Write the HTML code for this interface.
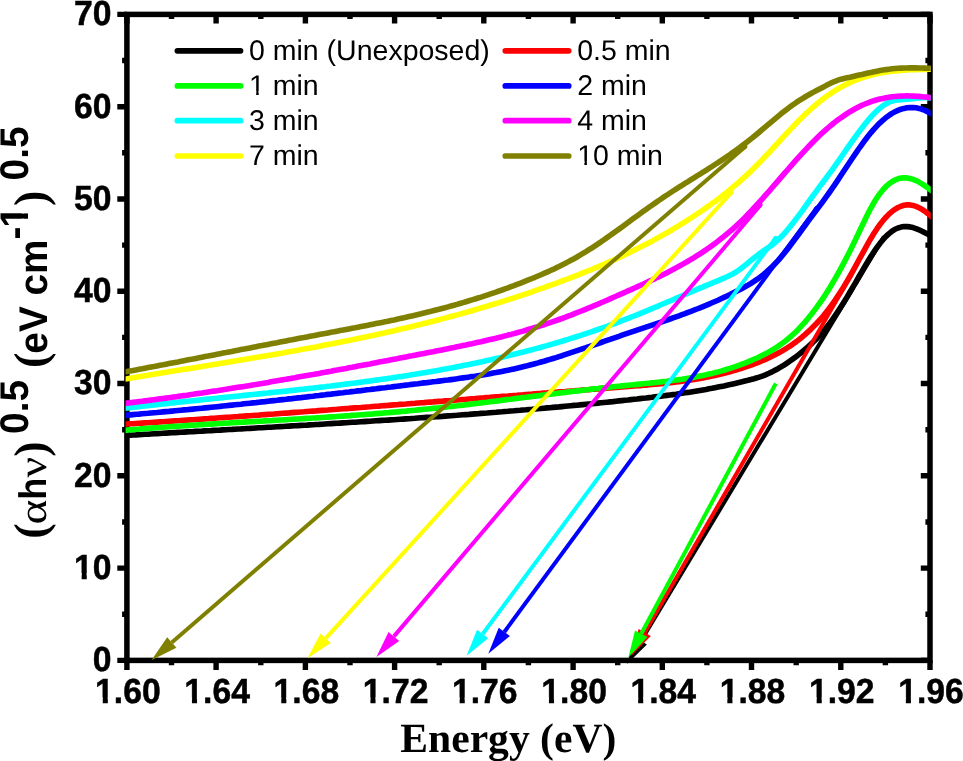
<!DOCTYPE html>
<html lang="en"><head><meta charset="utf-8"><title>Tauc plot</title>
<style>
html,body{margin:0;padding:0;background:#fff;}
svg{display:block;will-change:transform;}
text{font-family:"Liberation Sans",sans-serif;fill:#000;text-rendering:geometricPrecision;}
.b{font-weight:bold;}
.tick{font-weight:bold;font-size:34.8px;stroke:#000;stroke-width:0.5px;}
.leg{font-size:28.5px;}
.ser{font-family:"Liberation Serif",serif;}
</style></head><body>
<svg width="963" height="761" viewBox="0 0 963 761">
<rect x="0" y="0" width="963" height="761" fill="#fff"/>
<rect x="126.9" y="14.4" width="803.1" height="646.0" fill="none" stroke="#000" stroke-width="5.5"/>
<path d="M126.9,660.4 v9.6 M126.9,14.4 v9.2 M171.5,660.4 v4.8 M171.5,14.4 v4.6 M216.1,660.4 v9.6 M216.1,14.4 v9.2 M260.8,660.4 v4.8 M260.8,14.4 v4.6 M305.4,660.4 v9.6 M305.4,14.4 v9.2 M350.0,660.4 v4.8 M350.0,14.4 v4.6 M394.6,660.4 v9.6 M394.6,14.4 v9.2 M439.2,660.4 v4.8 M439.2,14.4 v4.6 M483.8,660.4 v9.6 M483.8,14.4 v9.2 M528.4,660.4 v4.8 M528.4,14.4 v4.6 M573.1,660.4 v9.6 M573.1,14.4 v9.2 M617.7,660.4 v4.8 M617.7,14.4 v4.6 M662.3,660.4 v9.6 M662.3,14.4 v9.2 M706.9,660.4 v4.8 M706.9,14.4 v4.6 M751.5,660.4 v9.6 M751.5,14.4 v9.2 M796.2,660.4 v4.8 M796.2,14.4 v4.6 M840.8,660.4 v9.6 M840.8,14.4 v9.2 M885.4,660.4 v4.8 M885.4,14.4 v4.6 M930.0,660.4 v9.6 M930.0,14.4 v9.2 M126.9,660.4 h-9.6 M930.0,660.4 h-9.2 M126.9,614.3 h-4.8 M930.0,614.3 h-4.6 M126.9,568.1 h-9.6 M930.0,568.1 h-9.2 M126.9,522.0 h-4.8 M930.0,522.0 h-4.6 M126.9,475.8 h-9.6 M930.0,475.8 h-9.2 M126.9,429.7 h-4.8 M930.0,429.7 h-4.6 M126.9,383.5 h-9.6 M930.0,383.5 h-9.2 M126.9,337.4 h-4.8 M930.0,337.4 h-4.6 M126.9,291.3 h-9.6 M930.0,291.3 h-9.2 M126.9,245.1 h-4.8 M930.0,245.1 h-4.6 M126.9,199.0 h-9.6 M930.0,199.0 h-9.2 M126.9,152.8 h-4.8 M930.0,152.8 h-4.6 M126.9,106.7 h-9.6 M930.0,106.7 h-9.2 M126.9,60.5 h-4.8 M930.0,60.5 h-4.6 M126.9,14.4 h-9.6 M930.0,14.4 h-9.2" stroke="#000" stroke-width="5.4" fill="none"/>
<g transform="translate(127.9,703.2) scale(0.968,1)"><text class="tick" text-anchor="middle">1.60</text><rect x="-33.72" y="-5.80" width="7.73" height="8.55" fill="#fff"/><rect x="-20.72" y="-5.80" width="7.29" height="8.55" fill="#fff"/></g>
<g transform="translate(217.1,703.2) scale(0.968,1)"><text class="tick" text-anchor="middle">1.64</text><rect x="-33.72" y="-5.80" width="7.73" height="8.55" fill="#fff"/><rect x="-20.72" y="-5.80" width="7.29" height="8.55" fill="#fff"/></g>
<g transform="translate(306.4,703.2) scale(0.968,1)"><text class="tick" text-anchor="middle">1.68</text><rect x="-33.72" y="-5.80" width="7.73" height="8.55" fill="#fff"/><rect x="-20.72" y="-5.80" width="7.29" height="8.55" fill="#fff"/></g>
<g transform="translate(395.6,703.2) scale(0.968,1)"><text class="tick" text-anchor="middle">1.72</text><rect x="-33.72" y="-5.80" width="7.73" height="8.55" fill="#fff"/><rect x="-20.72" y="-5.80" width="7.29" height="8.55" fill="#fff"/></g>
<g transform="translate(484.8,703.2) scale(0.968,1)"><text class="tick" text-anchor="middle">1.76</text><rect x="-33.72" y="-5.80" width="7.73" height="8.55" fill="#fff"/><rect x="-20.72" y="-5.80" width="7.29" height="8.55" fill="#fff"/></g>
<g transform="translate(574.1,703.2) scale(0.968,1)"><text class="tick" text-anchor="middle">1.80</text><rect x="-33.72" y="-5.80" width="7.73" height="8.55" fill="#fff"/><rect x="-20.72" y="-5.80" width="7.29" height="8.55" fill="#fff"/></g>
<g transform="translate(663.3,703.2) scale(0.968,1)"><text class="tick" text-anchor="middle">1.84</text><rect x="-33.72" y="-5.80" width="7.73" height="8.55" fill="#fff"/><rect x="-20.72" y="-5.80" width="7.29" height="8.55" fill="#fff"/></g>
<g transform="translate(752.5,703.2) scale(0.968,1)"><text class="tick" text-anchor="middle">1.88</text><rect x="-33.72" y="-5.80" width="7.73" height="8.55" fill="#fff"/><rect x="-20.72" y="-5.80" width="7.29" height="8.55" fill="#fff"/></g>
<g transform="translate(841.8,703.2) scale(0.968,1)"><text class="tick" text-anchor="middle">1.92</text><rect x="-33.72" y="-5.80" width="7.73" height="8.55" fill="#fff"/><rect x="-20.72" y="-5.80" width="7.29" height="8.55" fill="#fff"/></g>
<g transform="translate(931.0,703.2) scale(0.968,1)"><text class="tick" text-anchor="middle">1.96</text><rect x="-33.72" y="-5.80" width="7.73" height="8.55" fill="#fff"/><rect x="-20.72" y="-5.80" width="7.29" height="8.55" fill="#fff"/></g>
<g transform="translate(111.5,671.2) scale(0.968,1)"><text class="tick" text-anchor="end">0</text></g>
<g transform="translate(111.5,578.9) scale(0.968,1)"><text class="tick" text-anchor="end">10</text><rect x="-38.57" y="-5.80" width="7.73" height="8.55" fill="#fff"/><rect x="-25.56" y="-5.80" width="7.29" height="8.55" fill="#fff"/></g>
<g transform="translate(111.5,486.6) scale(0.968,1)"><text class="tick" text-anchor="end">20</text></g>
<g transform="translate(111.5,394.3) scale(0.968,1)"><text class="tick" text-anchor="end">30</text></g>
<g transform="translate(111.5,302.1) scale(0.968,1)"><text class="tick" text-anchor="end">40</text></g>
<g transform="translate(111.5,209.8) scale(0.968,1)"><text class="tick" text-anchor="end">50</text></g>
<g transform="translate(111.5,117.5) scale(0.968,1)"><text class="tick" text-anchor="end">60</text></g>
<g transform="translate(111.5,25.2) scale(0.968,1)"><text class="tick" text-anchor="end">70</text></g>
<clipPath id="cp"><rect x="125.6" y="0" width="805.2" height="761"/></clipPath>
<g clip-path="url(#cp)">
<path d="M123.5,435.6 L127.0,435.4 L130.0,435.2 L133.0,435.0 L136.0,434.9 L139.0,434.7 L142.0,434.5 L145.0,434.3 L148.0,434.2 L151.0,434.0 L154.0,433.8 L157.0,433.6 L160.0,433.5 L163.0,433.3 L166.0,433.1 L169.0,432.9 L172.0,432.8 L175.0,432.6 L178.0,432.4 L181.0,432.3 L184.0,432.1 L187.0,431.9 L190.0,431.7 L193.0,431.6 L196.0,431.4 L199.0,431.2 L202.0,431.1 L205.0,430.9 L208.0,430.7 L211.0,430.6 L214.0,430.4 L217.0,430.2 L220.0,430.1 L223.0,429.9 L226.0,429.7 L229.0,429.5 L232.0,429.4 L235.0,429.2 L238.0,429.0 L241.0,428.9 L244.0,428.7 L247.0,428.5 L250.0,428.4 L253.0,428.2 L256.0,428.0 L259.0,427.8 L262.0,427.7 L265.0,427.5 L268.0,427.3 L271.0,427.2 L274.0,427.0 L277.0,426.8 L280.0,426.6 L283.0,426.5 L286.0,426.3 L289.0,426.1 L292.0,425.9 L295.0,425.8 L298.0,425.6 L301.0,425.4 L304.0,425.2 L307.0,425.1 L310.0,424.9 L313.0,424.7 L316.0,424.5 L319.0,424.4 L322.0,424.2 L325.0,424.0 L328.0,423.8 L331.0,423.6 L334.0,423.4 L337.0,423.3 L340.0,423.1 L343.0,422.9 L346.0,422.7 L349.0,422.5 L352.0,422.3 L355.0,422.2 L358.0,422.0 L361.0,421.8 L364.0,421.6 L367.0,421.4 L370.0,421.2 L373.0,421.0 L376.0,420.8 L379.0,420.6 L382.0,420.4 L385.0,420.3 L388.0,420.1 L391.0,419.9 L394.0,419.7 L397.0,419.5 L400.0,419.3 L403.0,419.1 L406.0,418.9 L409.0,418.7 L412.0,418.5 L415.0,418.3 L418.0,418.0 L421.0,417.8 L424.0,417.6 L427.0,417.4 L430.0,417.2 L433.0,417.0 L436.0,416.8 L439.0,416.6 L442.0,416.4 L445.0,416.1 L448.0,415.9 L451.0,415.7 L454.0,415.5 L457.0,415.3 L460.0,415.0 L463.0,414.8 L466.0,414.6 L469.0,414.4 L472.0,414.1 L475.0,413.9 L478.0,413.7 L481.0,413.4 L484.0,413.2 L487.0,413.0 L490.0,412.7 L493.0,412.5 L496.0,412.3 L499.0,412.0 L502.0,411.8 L505.0,411.5 L508.0,411.3 L511.0,411.0 L514.0,410.8 L517.0,410.5 L520.0,410.3 L523.0,410.0 L526.0,409.8 L529.0,409.5 L532.0,409.3 L535.0,409.0 L538.0,408.7 L541.0,408.5 L544.0,408.2 L547.0,407.9 L550.0,407.7 L553.0,407.4 L556.0,407.1 L559.0,406.9 L562.0,406.6 L565.0,406.3 L568.0,406.0 L571.0,405.7 L574.0,405.4 L577.0,405.2 L580.0,404.9 L583.0,404.6 L586.0,404.3 L589.0,404.0 L592.0,403.7 L595.0,403.4 L598.0,403.1 L601.0,402.8 L604.0,402.5 L607.0,402.2 L610.0,401.9 L613.0,401.6 L616.0,401.2 L619.0,400.9 L622.0,400.6 L625.0,400.3 L628.0,400.0 L631.0,399.6 L634.0,399.3 L637.0,399.0 L640.0,398.6 L643.0,398.3 L646.0,398.0 L649.0,397.6 L652.0,397.3 L655.0,396.9 L658.0,396.5 L661.0,396.2 L664.0,395.8 L667.0,395.4 L670.0,395.0 L673.0,394.6 L676.0,394.2 L679.0,393.7 L682.0,393.3 L685.0,392.8 L688.0,392.4 L691.0,391.9 L694.0,391.4 L697.0,390.9 L700.0,390.4 L703.0,389.9 L706.0,389.4 L709.0,388.8 L712.0,388.3 L715.0,387.7 L718.0,387.1 L721.0,386.5 L724.0,385.9 L727.0,385.2 L730.0,384.6 L733.0,383.9 L736.0,383.2 L739.0,382.5 L742.0,381.8 L745.0,381.0 L748.0,380.3 L751.0,379.5 L754.0,378.7 L757.0,377.8 L760.0,376.8 L763.0,375.8 L766.0,374.6 L769.0,373.3 L772.0,371.9 L775.0,370.3 L778.0,368.7 L781.0,366.9 L784.0,365.1 L787.0,363.1 L790.0,361.0 L793.0,358.9 L796.0,356.7 L799.0,354.4 L802.0,352.0 L805.0,349.5 L808.0,346.9 L811.0,344.1 L814.0,341.3 L817.0,338.2 L820.0,335.0 L823.0,331.6 L826.0,328.0 L829.0,324.1 L832.0,320.1 L835.0,315.8 L838.0,311.4 L841.0,306.8 L844.0,302.0 L847.0,297.1 L850.0,292.0 L853.0,286.9 L856.0,281.8 L859.0,276.5 L862.0,271.3 L865.0,266.2 L868.0,261.2 L871.0,256.3 L874.0,251.7 L877.0,247.4 L880.0,243.3 L883.0,239.7 L886.0,236.4 L889.0,233.6 L892.0,231.2 L895.0,229.3 L898.0,228.0 L901.0,227.1 L904.0,226.6 L907.0,226.6 L910.0,226.9 L913.0,227.6 L916.0,228.6 L919.0,229.8 L922.0,231.2 L925.0,232.8 L928.0,234.4 L931.0,236.1 L934.0,237.7" fill="none" stroke="#000000" stroke-width="5.6" stroke-linejoin="round"/>
<path d="M123.5,424.3 L127.0,424.0 L130.0,423.8 L133.0,423.7 L136.0,423.5 L139.0,423.3 L142.0,423.1 L145.0,422.9 L148.0,422.7 L151.0,422.5 L154.0,422.3 L157.0,422.1 L160.0,421.9 L163.0,421.7 L166.0,421.5 L169.0,421.3 L172.0,421.1 L175.0,420.9 L178.0,420.7 L181.0,420.5 L184.0,420.3 L187.0,420.1 L190.0,419.9 L193.0,419.7 L196.0,419.5 L199.0,419.3 L202.0,419.1 L205.0,418.9 L208.0,418.7 L211.0,418.4 L214.0,418.2 L217.0,418.0 L220.0,417.8 L223.0,417.6 L226.0,417.4 L229.0,417.2 L232.0,417.0 L235.0,416.8 L238.0,416.6 L241.0,416.3 L244.0,416.1 L247.0,415.9 L250.0,415.7 L253.0,415.5 L256.0,415.3 L259.0,415.1 L262.0,414.8 L265.0,414.6 L268.0,414.4 L271.0,414.2 L274.0,414.0 L277.0,413.7 L280.0,413.5 L283.0,413.3 L286.0,413.1 L289.0,412.9 L292.0,412.6 L295.0,412.4 L298.0,412.2 L301.0,412.0 L304.0,411.8 L307.0,411.5 L310.0,411.3 L313.0,411.1 L316.0,410.9 L319.0,410.6 L322.0,410.4 L325.0,410.2 L328.0,410.0 L331.0,409.7 L334.0,409.5 L337.0,409.3 L340.0,409.0 L343.0,408.8 L346.0,408.6 L349.0,408.4 L352.0,408.1 L355.0,407.9 L358.0,407.7 L361.0,407.5 L364.0,407.2 L367.0,407.0 L370.0,406.8 L373.0,406.5 L376.0,406.3 L379.0,406.1 L382.0,405.8 L385.0,405.6 L388.0,405.4 L391.0,405.1 L394.0,404.9 L397.0,404.7 L400.0,404.4 L403.0,404.2 L406.0,404.0 L409.0,403.7 L412.0,403.5 L415.0,403.3 L418.0,403.0 L421.0,402.8 L424.0,402.6 L427.0,402.3 L430.0,402.1 L433.0,401.9 L436.0,401.6 L439.0,401.4 L442.0,401.2 L445.0,400.9 L448.0,400.7 L451.0,400.5 L454.0,400.2 L457.0,400.0 L460.0,399.8 L463.0,399.5 L466.0,399.3 L469.0,399.0 L472.0,398.8 L475.0,398.6 L478.0,398.3 L481.0,398.1 L484.0,397.9 L487.0,397.6 L490.0,397.4 L493.0,397.1 L496.0,396.9 L499.0,396.7 L502.0,396.4 L505.0,396.2 L508.0,396.0 L511.0,395.7 L514.0,395.5 L517.0,395.3 L520.0,395.0 L523.0,394.8 L526.0,394.5 L529.0,394.3 L532.0,394.1 L535.0,393.8 L538.0,393.6 L541.0,393.4 L544.0,393.1 L547.0,392.9 L550.0,392.6 L553.0,392.4 L556.0,392.2 L559.0,391.9 L562.0,391.7 L565.0,391.5 L568.0,391.2 L571.0,391.0 L574.0,390.8 L577.0,390.5 L580.0,390.3 L583.0,390.0 L586.0,389.8 L589.0,389.6 L592.0,389.3 L595.0,389.1 L598.0,388.9 L601.0,388.6 L604.0,388.4 L607.0,388.2 L610.0,387.9 L613.0,387.7 L616.0,387.5 L619.0,387.2 L622.0,387.0 L625.0,386.8 L628.0,386.5 L631.0,386.3 L634.0,386.0 L637.0,385.8 L640.0,385.6 L643.0,385.3 L646.0,385.1 L649.0,384.8 L652.0,384.5 L655.0,384.3 L658.0,384.0 L661.0,383.7 L664.0,383.4 L667.0,383.1 L670.0,382.7 L673.0,382.4 L676.0,382.0 L679.0,381.6 L682.0,381.2 L685.0,380.8 L688.0,380.4 L691.0,379.9 L694.0,379.5 L697.0,379.0 L700.0,378.4 L703.0,377.9 L706.0,377.3 L709.0,376.7 L712.0,376.1 L715.0,375.4 L718.0,374.8 L721.0,374.1 L724.0,373.3 L727.0,372.5 L730.0,371.7 L733.0,370.9 L736.0,370.0 L739.0,369.1 L742.0,368.2 L745.0,367.2 L748.0,366.1 L751.0,365.1 L754.0,364.0 L757.0,362.8 L760.0,361.6 L763.0,360.4 L766.0,359.1 L769.0,357.8 L772.0,356.3 L775.0,354.8 L778.0,353.3 L781.0,351.6 L784.0,349.9 L787.0,348.0 L790.0,346.1 L793.0,344.0 L796.0,341.9 L799.0,339.6 L802.0,337.2 L805.0,334.6 L808.0,331.9 L811.0,329.1 L814.0,326.1 L817.0,323.0 L820.0,319.7 L823.0,316.2 L826.0,312.5 L829.0,308.7 L832.0,304.6 L835.0,300.4 L838.0,295.9 L841.0,291.2 L844.0,286.4 L847.0,281.3 L850.0,276.1 L853.0,270.8 L856.0,265.4 L859.0,259.8 L862.0,254.3 L865.0,248.8 L868.0,243.4 L871.0,238.2 L874.0,233.3 L877.0,228.7 L880.0,224.5 L883.0,220.6 L886.0,217.2 L889.0,214.1 L892.0,211.5 L895.0,209.3 L898.0,207.5 L901.0,206.2 L904.0,205.3 L907.0,204.9 L910.0,204.9 L913.0,205.4 L916.0,206.4 L919.0,207.7 L922.0,209.4 L925.0,211.4 L928.0,213.7 L931.0,216.2 L934.0,218.8" fill="none" stroke="#ff0000" stroke-width="5.6" stroke-linejoin="round"/>
<path d="M123.5,430.4 L127.0,430.1 L130.0,429.8 L133.0,429.6 L136.0,429.3 L139.0,429.1 L142.0,428.8 L145.0,428.6 L148.0,428.4 L151.0,428.1 L154.0,427.9 L157.0,427.7 L160.0,427.5 L163.0,427.3 L166.0,427.0 L169.0,426.8 L172.0,426.6 L175.0,426.4 L178.0,426.2 L181.0,426.0 L184.0,425.8 L187.0,425.6 L190.0,425.4 L193.0,425.2 L196.0,425.0 L199.0,424.8 L202.0,424.6 L205.0,424.5 L208.0,424.3 L211.0,424.1 L214.0,423.9 L217.0,423.7 L220.0,423.5 L223.0,423.4 L226.0,423.2 L229.0,423.0 L232.0,422.8 L235.0,422.6 L238.0,422.5 L241.0,422.3 L244.0,422.1 L247.0,421.9 L250.0,421.8 L253.0,421.6 L256.0,421.4 L259.0,421.2 L262.0,421.1 L265.0,420.9 L268.0,420.7 L271.0,420.6 L274.0,420.4 L277.0,420.2 L280.0,420.0 L283.0,419.9 L286.0,419.7 L289.0,419.5 L292.0,419.3 L295.0,419.1 L298.0,419.0 L301.0,418.8 L304.0,418.6 L307.0,418.4 L310.0,418.2 L313.0,418.0 L316.0,417.9 L319.0,417.7 L322.0,417.5 L325.0,417.3 L328.0,417.1 L331.0,416.9 L334.0,416.7 L337.0,416.5 L340.0,416.3 L343.0,416.1 L346.0,415.9 L349.0,415.7 L352.0,415.4 L355.0,415.2 L358.0,415.0 L361.0,414.8 L364.0,414.6 L367.0,414.3 L370.0,414.1 L373.0,413.9 L376.0,413.6 L379.0,413.4 L382.0,413.2 L385.0,412.9 L388.0,412.7 L391.0,412.4 L394.0,412.1 L397.0,411.9 L400.0,411.6 L403.0,411.3 L406.0,411.1 L409.0,410.8 L412.0,410.5 L415.0,410.2 L418.0,409.9 L421.0,409.6 L424.0,409.3 L427.0,409.0 L430.0,408.7 L433.0,408.4 L436.0,408.1 L439.0,407.8 L442.0,407.4 L445.0,407.1 L448.0,406.8 L451.0,406.4 L454.0,406.1 L457.0,405.8 L460.0,405.4 L463.0,405.1 L466.0,404.7 L469.0,404.4 L472.0,404.0 L475.0,403.6 L478.0,403.3 L481.0,402.9 L484.0,402.5 L487.0,402.2 L490.0,401.8 L493.0,401.4 L496.0,401.1 L499.0,400.7 L502.0,400.3 L505.0,399.9 L508.0,399.5 L511.0,399.2 L514.0,398.8 L517.0,398.4 L520.0,398.0 L523.0,397.6 L526.0,397.3 L529.0,396.9 L532.0,396.5 L535.0,396.1 L538.0,395.7 L541.0,395.4 L544.0,395.0 L547.0,394.6 L550.0,394.2 L553.0,393.9 L556.0,393.5 L559.0,393.1 L562.0,392.7 L565.0,392.4 L568.0,392.0 L571.0,391.6 L574.0,391.3 L577.0,390.9 L580.0,390.6 L583.0,390.2 L586.0,389.8 L589.0,389.5 L592.0,389.1 L595.0,388.8 L598.0,388.5 L601.0,388.1 L604.0,387.8 L607.0,387.5 L610.0,387.1 L613.0,386.8 L616.0,386.5 L619.0,386.2 L622.0,385.9 L625.0,385.6 L628.0,385.3 L631.0,385.0 L634.0,384.7 L637.0,384.4 L640.0,384.1 L643.0,383.8 L646.0,383.5 L649.0,383.2 L652.0,382.9 L655.0,382.6 L658.0,382.2 L661.0,381.9 L664.0,381.5 L667.0,381.2 L670.0,380.8 L673.0,380.4 L676.0,380.0 L679.0,379.6 L682.0,379.2 L685.0,378.7 L688.0,378.2 L691.0,377.7 L694.0,377.2 L697.0,376.6 L700.0,376.0 L703.0,375.4 L706.0,374.8 L709.0,374.1 L712.0,373.4 L715.0,372.6 L718.0,371.9 L721.0,371.1 L724.0,370.2 L727.0,369.3 L730.0,368.4 L733.0,367.4 L736.0,366.4 L739.0,365.3 L742.0,364.2 L745.0,363.1 L748.0,361.9 L751.0,360.6 L754.0,359.3 L757.0,358.0 L760.0,356.6 L763.0,355.1 L766.0,353.6 L769.0,351.9 L772.0,350.2 L775.0,348.3 L778.0,346.4 L781.0,344.3 L784.0,342.1 L787.0,339.7 L790.0,337.2 L793.0,334.5 L796.0,331.7 L799.0,328.6 L802.0,325.4 L805.0,322.1 L808.0,318.5 L811.0,314.8 L814.0,310.9 L817.0,306.9 L820.0,302.7 L823.0,298.3 L826.0,293.7 L829.0,288.9 L832.0,284.0 L835.0,278.9 L838.0,273.6 L841.0,268.2 L844.0,262.6 L847.0,256.8 L850.0,250.9 L853.0,244.8 L856.0,238.6 L859.0,232.3 L862.0,226.0 L865.0,219.7 L868.0,213.6 L871.0,207.8 L874.0,202.5 L877.0,197.6 L880.0,193.4 L883.0,189.7 L886.0,186.5 L889.0,183.8 L892.0,181.7 L895.0,180.0 L898.0,178.8 L901.0,178.1 L904.0,177.8 L907.0,177.9 L910.0,178.5 L913.0,179.4 L916.0,180.6 L919.0,182.1 L922.0,183.9 L925.0,185.9 L928.0,188.0 L931.0,190.2 L934.0,192.4" fill="none" stroke="#00ff00" stroke-width="5.6" stroke-linejoin="round"/>
<path d="M123.5,415.4 L127.0,415.1 L130.0,414.9 L133.0,414.6 L136.0,414.3 L139.0,414.1 L142.0,413.8 L145.0,413.5 L148.0,413.3 L151.0,413.0 L154.0,412.7 L157.0,412.5 L160.0,412.2 L163.0,411.9 L166.0,411.6 L169.0,411.4 L172.0,411.1 L175.0,410.8 L178.0,410.5 L181.0,410.2 L184.0,409.9 L187.0,409.7 L190.0,409.4 L193.0,409.1 L196.0,408.8 L199.0,408.5 L202.0,408.2 L205.0,407.9 L208.0,407.6 L211.0,407.3 L214.0,407.0 L217.0,406.7 L220.0,406.4 L223.0,406.0 L226.0,405.7 L229.0,405.4 L232.0,405.1 L235.0,404.8 L238.0,404.5 L241.0,404.2 L244.0,403.8 L247.0,403.5 L250.0,403.2 L253.0,402.9 L256.0,402.6 L259.0,402.2 L262.0,401.9 L265.0,401.6 L268.0,401.2 L271.0,400.9 L274.0,400.6 L277.0,400.3 L280.0,399.9 L283.0,399.6 L286.0,399.3 L289.0,398.9 L292.0,398.6 L295.0,398.2 L298.0,397.9 L301.0,397.6 L304.0,397.2 L307.0,396.9 L310.0,396.5 L313.0,396.2 L316.0,395.8 L319.0,395.5 L322.0,395.1 L325.0,394.8 L328.0,394.4 L331.0,394.1 L334.0,393.7 L337.0,393.4 L340.0,393.0 L343.0,392.7 L346.0,392.3 L349.0,392.0 L352.0,391.6 L355.0,391.3 L358.0,390.9 L361.0,390.6 L364.0,390.2 L367.0,389.8 L370.0,389.5 L373.0,389.1 L376.0,388.8 L379.0,388.4 L382.0,388.0 L385.0,387.7 L388.0,387.3 L391.0,387.0 L394.0,386.6 L397.0,386.2 L400.0,385.9 L403.0,385.5 L406.0,385.1 L409.0,384.8 L412.0,384.4 L415.0,384.0 L418.0,383.7 L421.0,383.3 L424.0,382.9 L427.0,382.6 L430.0,382.2 L433.0,381.8 L436.0,381.5 L439.0,381.1 L442.0,380.7 L445.0,380.3 L448.0,380.0 L451.0,379.6 L454.0,379.2 L457.0,378.8 L460.0,378.3 L463.0,377.9 L466.0,377.5 L469.0,377.1 L472.0,376.6 L475.0,376.2 L478.0,375.7 L481.0,375.2 L484.0,374.7 L487.0,374.2 L490.0,373.7 L493.0,373.1 L496.0,372.6 L499.0,372.0 L502.0,371.4 L505.0,370.8 L508.0,370.2 L511.0,369.6 L514.0,368.9 L517.0,368.2 L520.0,367.5 L523.0,366.8 L526.0,366.1 L529.0,365.3 L532.0,364.5 L535.0,363.7 L538.0,362.9 L541.0,362.0 L544.0,361.2 L547.0,360.3 L550.0,359.4 L553.0,358.5 L556.0,357.6 L559.0,356.6 L562.0,355.7 L565.0,354.7 L568.0,353.7 L571.0,352.7 L574.0,351.7 L577.0,350.7 L580.0,349.7 L583.0,348.7 L586.0,347.7 L589.0,346.6 L592.0,345.6 L595.0,344.6 L598.0,343.5 L601.0,342.5 L604.0,341.4 L607.0,340.4 L610.0,339.4 L613.0,338.3 L616.0,337.3 L619.0,336.3 L622.0,335.2 L625.0,334.2 L628.0,333.2 L631.0,332.2 L634.0,331.2 L637.0,330.1 L640.0,329.1 L643.0,328.1 L646.0,327.1 L649.0,326.1 L652.0,325.1 L655.0,324.1 L658.0,323.1 L661.0,322.1 L664.0,321.0 L667.0,320.0 L670.0,319.0 L673.0,317.9 L676.0,316.8 L679.0,315.8 L682.0,314.7 L685.0,313.6 L688.0,312.4 L691.0,311.3 L694.0,310.2 L697.0,309.0 L700.0,307.8 L703.0,306.6 L706.0,305.4 L709.0,304.1 L712.0,302.8 L715.0,301.5 L718.0,300.2 L721.0,298.8 L724.0,297.4 L727.0,296.0 L730.0,294.6 L733.0,293.1 L736.0,291.6 L739.0,290.1 L742.0,288.5 L745.0,286.8 L748.0,285.1 L751.0,283.3 L754.0,281.4 L757.0,279.4 L760.0,277.2 L763.0,274.9 L766.0,272.4 L769.0,269.7 L772.0,266.9 L775.0,263.8 L778.0,260.6 L781.0,257.1 L784.0,253.5 L787.0,249.7 L790.0,245.9 L793.0,241.9 L796.0,237.9 L799.0,233.8 L802.0,229.6 L805.0,225.5 L808.0,221.4 L811.0,217.4 L814.0,213.4 L817.0,209.4 L820.0,205.4 L823.0,201.3 L826.0,197.2 L829.0,193.0 L832.0,188.7 L835.0,184.3 L838.0,179.9 L841.0,175.3 L844.0,170.8 L847.0,166.2 L850.0,161.7 L853.0,157.2 L856.0,152.8 L859.0,148.5 L862.0,144.3 L865.0,140.2 L868.0,136.3 L871.0,132.6 L874.0,129.1 L877.0,125.8 L880.0,122.8 L883.0,120.1 L886.0,117.6 L889.0,115.4 L892.0,113.4 L895.0,111.8 L898.0,110.4 L901.0,109.2 L904.0,108.4 L907.0,107.8 L910.0,107.6 L913.0,107.6 L916.0,107.8 L919.0,108.4 L922.0,109.3 L925.0,110.4 L928.0,111.9 L931.0,113.6 L934.0,115.4" fill="none" stroke="#0000ff" stroke-width="5.6" stroke-linejoin="round"/>
<path d="M123.5,408.5 L127.0,408.0 L130.0,407.7 L133.0,407.3 L136.0,407.0 L139.0,406.6 L142.0,406.3 L145.0,405.9 L148.0,405.6 L151.0,405.2 L154.0,404.9 L157.0,404.6 L160.0,404.2 L163.0,403.9 L166.0,403.6 L169.0,403.2 L172.0,402.9 L175.0,402.6 L178.0,402.3 L181.0,401.9 L184.0,401.6 L187.0,401.3 L190.0,401.0 L193.0,400.7 L196.0,400.4 L199.0,400.1 L202.0,399.7 L205.0,399.4 L208.0,399.1 L211.0,398.8 L214.0,398.5 L217.0,398.2 L220.0,397.9 L223.0,397.6 L226.0,397.3 L229.0,397.0 L232.0,396.7 L235.0,396.4 L238.0,396.1 L241.0,395.7 L244.0,395.4 L247.0,395.1 L250.0,394.8 L253.0,394.5 L256.0,394.2 L259.0,393.9 L262.0,393.6 L265.0,393.3 L268.0,393.0 L271.0,392.6 L274.0,392.3 L277.0,392.0 L280.0,391.7 L283.0,391.4 L286.0,391.1 L289.0,390.7 L292.0,390.4 L295.0,390.1 L298.0,389.7 L301.0,389.4 L304.0,389.1 L307.0,388.7 L310.0,388.4 L313.0,388.1 L316.0,387.7 L319.0,387.4 L322.0,387.0 L325.0,386.7 L328.0,386.3 L331.0,386.0 L334.0,385.6 L337.0,385.2 L340.0,384.9 L343.0,384.5 L346.0,384.1 L349.0,383.7 L352.0,383.3 L355.0,383.0 L358.0,382.6 L361.0,382.2 L364.0,381.8 L367.0,381.4 L370.0,381.0 L373.0,380.6 L376.0,380.1 L379.0,379.7 L382.0,379.3 L385.0,378.9 L388.0,378.4 L391.0,378.0 L394.0,377.5 L397.0,377.1 L400.0,376.6 L403.0,376.2 L406.0,375.7 L409.0,375.2 L412.0,374.7 L415.0,374.3 L418.0,373.8 L421.0,373.3 L424.0,372.8 L427.0,372.3 L430.0,371.7 L433.0,371.2 L436.0,370.7 L439.0,370.2 L442.0,369.6 L445.0,369.1 L448.0,368.5 L451.0,368.0 L454.0,367.4 L457.0,366.8 L460.0,366.2 L463.0,365.6 L466.0,365.0 L469.0,364.4 L472.0,363.8 L475.0,363.2 L478.0,362.6 L481.0,361.9 L484.0,361.3 L487.0,360.6 L490.0,360.0 L493.0,359.3 L496.0,358.6 L499.0,357.9 L502.0,357.2 L505.0,356.5 L508.0,355.8 L511.0,355.1 L514.0,354.3 L517.0,353.6 L520.0,352.8 L523.0,352.1 L526.0,351.3 L529.0,350.5 L532.0,349.7 L535.0,348.9 L538.0,348.1 L541.0,347.3 L544.0,346.4 L547.0,345.6 L550.0,344.7 L553.0,343.9 L556.0,343.0 L559.0,342.1 L562.0,341.2 L565.0,340.3 L568.0,339.4 L571.0,338.4 L574.0,337.5 L577.0,336.5 L580.0,335.6 L583.0,334.6 L586.0,333.6 L589.0,332.6 L592.0,331.6 L595.0,330.5 L598.0,329.5 L601.0,328.4 L604.0,327.4 L607.0,326.3 L610.0,325.2 L613.0,324.1 L616.0,323.0 L619.0,321.8 L622.0,320.7 L625.0,319.5 L628.0,318.4 L631.0,317.2 L634.0,316.0 L637.0,314.8 L640.0,313.6 L643.0,312.3 L646.0,311.1 L649.0,309.9 L652.0,308.6 L655.0,307.3 L658.0,306.1 L661.0,304.8 L664.0,303.5 L667.0,302.2 L670.0,301.0 L673.0,299.7 L676.0,298.4 L679.0,297.1 L682.0,295.8 L685.0,294.5 L688.0,293.2 L691.0,292.0 L694.0,290.7 L697.0,289.4 L700.0,288.1 L703.0,286.9 L706.0,285.6 L709.0,284.3 L712.0,283.1 L715.0,281.8 L718.0,280.6 L721.0,279.4 L724.0,278.1 L727.0,276.8 L730.0,275.4 L733.0,273.8 L736.0,272.0 L739.0,270.0 L742.0,267.8 L745.0,265.4 L748.0,262.9 L751.0,260.4 L754.0,258.0 L757.0,255.6 L760.0,253.3 L763.0,251.2 L766.0,249.2 L769.0,247.2 L772.0,245.0 L775.0,242.6 L778.0,239.9 L781.0,237.0 L784.0,233.8 L787.0,230.4 L790.0,226.8 L793.0,223.0 L796.0,219.1 L799.0,215.1 L802.0,211.1 L805.0,206.9 L808.0,202.7 L811.0,198.5 L814.0,194.4 L817.0,190.3 L820.0,186.2 L823.0,182.2 L826.0,178.2 L829.0,174.1 L832.0,170.1 L835.0,165.9 L838.0,161.7 L841.0,157.4 L844.0,153.0 L847.0,148.7 L850.0,144.4 L853.0,140.2 L856.0,136.0 L859.0,131.9 L862.0,127.9 L865.0,124.1 L868.0,120.4 L871.0,116.9 L874.0,113.7 L877.0,110.7 L880.0,108.1 L883.0,105.7 L886.0,103.8 L889.0,102.2 L892.0,101.1 L895.0,100.3 L898.0,99.9 L901.0,99.7 L904.0,99.4 L907.0,99.2 L910.0,98.9 L913.0,98.6 L916.0,98.2 L919.0,98.0 L922.0,97.8 L925.0,97.7 L928.0,97.7 L931.0,98.0 L934.0,98.2" fill="none" stroke="#00ffff" stroke-width="5.6" stroke-linejoin="round"/>
<path d="M123.5,403.5 L127.0,403.1 L130.0,402.8 L133.0,402.4 L136.0,402.0 L139.0,401.6 L142.0,401.3 L145.0,400.9 L148.0,400.5 L151.0,400.1 L154.0,399.7 L157.0,399.3 L160.0,398.9 L163.0,398.5 L166.0,398.1 L169.0,397.7 L172.0,397.3 L175.0,396.9 L178.0,396.4 L181.0,396.0 L184.0,395.6 L187.0,395.2 L190.0,394.7 L193.0,394.3 L196.0,393.8 L199.0,393.4 L202.0,393.0 L205.0,392.5 L208.0,392.1 L211.0,391.6 L214.0,391.1 L217.0,390.7 L220.0,390.2 L223.0,389.7 L226.0,389.3 L229.0,388.8 L232.0,388.3 L235.0,387.8 L238.0,387.3 L241.0,386.9 L244.0,386.4 L247.0,385.9 L250.0,385.4 L253.0,384.9 L256.0,384.4 L259.0,383.9 L262.0,383.4 L265.0,382.9 L268.0,382.4 L271.0,381.8 L274.0,381.3 L277.0,380.8 L280.0,380.3 L283.0,379.8 L286.0,379.3 L289.0,378.7 L292.0,378.2 L295.0,377.7 L298.0,377.1 L301.0,376.6 L304.0,376.1 L307.0,375.5 L310.0,375.0 L313.0,374.5 L316.0,373.9 L319.0,373.4 L322.0,372.8 L325.0,372.3 L328.0,371.7 L331.0,371.2 L334.0,370.6 L337.0,370.1 L340.0,369.5 L343.0,368.9 L346.0,368.4 L349.0,367.8 L352.0,367.3 L355.0,366.7 L358.0,366.1 L361.0,365.6 L364.0,365.0 L367.0,364.4 L370.0,363.9 L373.0,363.3 L376.0,362.7 L379.0,362.1 L382.0,361.6 L385.0,361.0 L388.0,360.4 L391.0,359.8 L394.0,359.2 L397.0,358.7 L400.0,358.1 L403.0,357.5 L406.0,356.9 L409.0,356.3 L412.0,355.8 L415.0,355.2 L418.0,354.6 L421.0,354.0 L424.0,353.4 L427.0,352.8 L430.0,352.2 L433.0,351.7 L436.0,351.1 L439.0,350.5 L442.0,349.9 L445.0,349.3 L448.0,348.7 L451.0,348.1 L454.0,347.5 L457.0,346.8 L460.0,346.2 L463.0,345.6 L466.0,345.0 L469.0,344.3 L472.0,343.7 L475.0,343.0 L478.0,342.3 L481.0,341.7 L484.0,341.0 L487.0,340.3 L490.0,339.6 L493.0,338.9 L496.0,338.2 L499.0,337.4 L502.0,336.7 L505.0,335.9 L508.0,335.1 L511.0,334.4 L514.0,333.6 L517.0,332.7 L520.0,331.9 L523.0,331.1 L526.0,330.2 L529.0,329.3 L532.0,328.4 L535.0,327.5 L538.0,326.6 L541.0,325.6 L544.0,324.7 L547.0,323.7 L550.0,322.7 L553.0,321.7 L556.0,320.6 L559.0,319.5 L562.0,318.5 L565.0,317.4 L568.0,316.2 L571.0,315.1 L574.0,313.9 L577.0,312.7 L580.0,311.5 L583.0,310.3 L586.0,309.1 L589.0,307.8 L592.0,306.6 L595.0,305.3 L598.0,304.1 L601.0,302.8 L604.0,301.5 L607.0,300.2 L610.0,298.9 L613.0,297.5 L616.0,296.2 L619.0,294.9 L622.0,293.6 L625.0,292.2 L628.0,290.9 L631.0,289.6 L634.0,288.2 L637.0,286.9 L640.0,285.5 L643.0,284.2 L646.0,282.8 L649.0,281.4 L652.0,280.0 L655.0,278.6 L658.0,277.1 L661.0,275.7 L664.0,274.2 L667.0,272.7 L670.0,271.1 L673.0,269.5 L676.0,267.9 L679.0,266.3 L682.0,264.6 L685.0,262.9 L688.0,261.2 L691.0,259.4 L694.0,257.6 L697.0,255.7 L700.0,253.8 L703.0,251.8 L706.0,249.8 L709.0,247.7 L712.0,245.6 L715.0,243.4 L718.0,241.1 L721.0,238.8 L724.0,236.4 L727.0,233.9 L730.0,231.4 L733.0,228.8 L736.0,226.1 L739.0,223.3 L742.0,220.4 L745.0,217.4 L748.0,214.3 L751.0,211.2 L754.0,208.0 L757.0,204.7 L760.0,201.4 L763.0,198.1 L766.0,194.7 L769.0,191.3 L772.0,187.8 L775.0,184.4 L778.0,180.9 L781.0,177.4 L784.0,173.9 L787.0,170.5 L790.0,167.0 L793.0,163.6 L796.0,160.2 L799.0,156.9 L802.0,153.6 L805.0,150.3 L808.0,147.1 L811.0,144.0 L814.0,141.0 L817.0,138.0 L820.0,135.1 L823.0,132.3 L826.0,129.6 L829.0,127.0 L832.0,124.5 L835.0,122.1 L838.0,119.8 L841.0,117.7 L844.0,115.6 L847.0,113.6 L850.0,111.7 L853.0,110.0 L856.0,108.3 L859.0,106.8 L862.0,105.3 L865.0,104.0 L868.0,102.8 L871.0,101.7 L874.0,100.7 L877.0,99.8 L880.0,99.1 L883.0,98.4 L886.0,97.8 L889.0,97.3 L892.0,96.8 L895.0,96.5 L898.0,96.3 L901.0,96.1 L904.0,96.0 L907.0,95.9 L910.0,96.0 L913.0,96.1 L916.0,96.2 L919.0,96.4 L922.0,96.7 L925.0,97.0 L928.0,97.3 L931.0,97.7 L934.0,98.1" fill="none" stroke="#ff00ff" stroke-width="5.6" stroke-linejoin="round"/>
<path d="M123.5,379.2 L127.0,378.7 L130.0,378.2 L133.0,377.7 L136.0,377.2 L139.0,376.7 L142.0,376.2 L145.0,375.7 L148.0,375.2 L151.0,374.7 L154.0,374.2 L157.0,373.7 L160.0,373.2 L163.0,372.7 L166.0,372.3 L169.0,371.8 L172.0,371.3 L175.0,370.8 L178.0,370.3 L181.0,369.8 L184.0,369.3 L187.0,368.9 L190.0,368.4 L193.0,367.9 L196.0,367.4 L199.0,366.9 L202.0,366.4 L205.0,365.9 L208.0,365.5 L211.0,365.0 L214.0,364.5 L217.0,364.0 L220.0,363.5 L223.0,363.0 L226.0,362.5 L229.0,362.0 L232.0,361.5 L235.0,361.0 L238.0,360.5 L241.0,360.0 L244.0,359.5 L247.0,359.0 L250.0,358.5 L253.0,358.0 L256.0,357.5 L259.0,357.0 L262.0,356.5 L265.0,356.0 L268.0,355.5 L271.0,355.0 L274.0,354.4 L277.0,353.9 L280.0,353.4 L283.0,352.9 L286.0,352.3 L289.0,351.8 L292.0,351.3 L295.0,350.7 L298.0,350.2 L301.0,349.6 L304.0,349.1 L307.0,348.5 L310.0,348.0 L313.0,347.4 L316.0,346.9 L319.0,346.3 L322.0,345.7 L325.0,345.1 L328.0,344.6 L331.0,344.0 L334.0,343.4 L337.0,342.8 L340.0,342.2 L343.0,341.6 L346.0,341.0 L349.0,340.4 L352.0,339.8 L355.0,339.2 L358.0,338.6 L361.0,337.9 L364.0,337.3 L367.0,336.7 L370.0,336.0 L373.0,335.4 L376.0,334.7 L379.0,334.1 L382.0,333.4 L385.0,332.8 L388.0,332.1 L391.0,331.4 L394.0,330.7 L397.0,330.0 L400.0,329.3 L403.0,328.6 L406.0,327.9 L409.0,327.2 L412.0,326.5 L415.0,325.8 L418.0,325.0 L421.0,324.3 L424.0,323.5 L427.0,322.8 L430.0,322.0 L433.0,321.3 L436.0,320.5 L439.0,319.7 L442.0,318.9 L445.0,318.1 L448.0,317.3 L451.0,316.5 L454.0,315.7 L457.0,314.9 L460.0,314.1 L463.0,313.2 L466.0,312.4 L469.0,311.5 L472.0,310.7 L475.0,309.8 L478.0,308.9 L481.0,308.0 L484.0,307.1 L487.0,306.2 L490.0,305.3 L493.0,304.4 L496.0,303.5 L499.0,302.6 L502.0,301.6 L505.0,300.7 L508.0,299.7 L511.0,298.8 L514.0,297.8 L517.0,296.8 L520.0,295.8 L523.0,294.8 L526.0,293.8 L529.0,292.8 L532.0,291.8 L535.0,290.7 L538.0,289.7 L541.0,288.6 L544.0,287.6 L547.0,286.5 L550.0,285.4 L553.0,284.4 L556.0,283.3 L559.0,282.1 L562.0,281.0 L565.0,279.9 L568.0,278.8 L571.0,277.6 L574.0,276.5 L577.0,275.3 L580.0,274.1 L583.0,272.9 L586.0,271.7 L589.0,270.5 L592.0,269.3 L595.0,268.0 L598.0,266.8 L601.0,265.5 L604.0,264.2 L607.0,262.9 L610.0,261.6 L613.0,260.2 L616.0,258.9 L619.0,257.5 L622.0,256.1 L625.0,254.7 L628.0,253.3 L631.0,251.8 L634.0,250.3 L637.0,248.8 L640.0,247.3 L643.0,245.8 L646.0,244.2 L649.0,242.7 L652.0,241.1 L655.0,239.4 L658.0,237.8 L661.0,236.1 L664.0,234.4 L667.0,232.7 L670.0,231.0 L673.0,229.2 L676.0,227.4 L679.0,225.6 L682.0,223.7 L685.0,221.8 L688.0,219.9 L691.0,218.0 L694.0,216.0 L697.0,214.0 L700.0,212.0 L703.0,210.0 L706.0,207.9 L709.0,205.8 L712.0,203.6 L715.0,201.4 L718.0,199.2 L721.0,196.9 L724.0,194.5 L727.0,192.2 L730.0,189.7 L733.0,187.2 L736.0,184.7 L739.0,182.1 L742.0,179.4 L745.0,176.7 L748.0,173.9 L751.0,171.1 L754.0,168.1 L757.0,165.1 L760.0,162.1 L763.0,158.9 L766.0,155.8 L769.0,152.6 L772.0,149.3 L775.0,146.0 L778.0,142.8 L781.0,139.5 L784.0,136.2 L787.0,133.0 L790.0,129.8 L793.0,126.6 L796.0,123.5 L799.0,120.4 L802.0,117.4 L805.0,114.5 L808.0,111.7 L811.0,109.0 L814.0,106.4 L817.0,103.8 L820.0,101.4 L823.0,99.0 L826.0,96.8 L829.0,94.6 L832.0,92.6 L835.0,90.7 L838.0,88.8 L841.0,87.1 L844.0,85.5 L847.0,84.0 L850.0,82.6 L853.0,81.3 L856.0,80.0 L859.0,78.9 L862.0,77.8 L865.0,76.9 L868.0,76.0 L871.0,75.2 L874.0,74.4 L877.0,73.7 L880.0,73.1 L883.0,72.6 L886.0,72.1 L889.0,71.6 L892.0,71.3 L895.0,70.9 L898.0,70.6 L901.0,70.4 L904.0,70.1 L907.0,70.0 L910.0,69.8 L913.0,69.7 L916.0,69.6 L919.0,69.5 L922.0,69.4 L925.0,69.4 L928.0,69.3 L931.0,69.3 L934.0,69.3" fill="none" stroke="#ffff00" stroke-width="5.6" stroke-linejoin="round"/>
<path d="M123.5,372.3 L127.0,371.6 L130.0,371.0 L133.0,370.5 L136.0,369.9 L139.0,369.3 L142.0,368.8 L145.0,368.2 L148.0,367.6 L151.0,367.0 L154.0,366.5 L157.0,365.9 L160.0,365.3 L163.0,364.8 L166.0,364.2 L169.0,363.6 L172.0,363.0 L175.0,362.4 L178.0,361.9 L181.0,361.3 L184.0,360.7 L187.0,360.1 L190.0,359.5 L193.0,359.0 L196.0,358.4 L199.0,357.8 L202.0,357.2 L205.0,356.6 L208.0,356.1 L211.0,355.5 L214.0,354.9 L217.0,354.3 L220.0,353.7 L223.0,353.1 L226.0,352.6 L229.0,352.0 L232.0,351.4 L235.0,350.8 L238.0,350.2 L241.0,349.6 L244.0,349.1 L247.0,348.5 L250.0,347.9 L253.0,347.3 L256.0,346.7 L259.0,346.1 L262.0,345.6 L265.0,345.0 L268.0,344.4 L271.0,343.8 L274.0,343.2 L277.0,342.7 L280.0,342.1 L283.0,341.5 L286.0,340.9 L289.0,340.3 L292.0,339.8 L295.0,339.2 L298.0,338.6 L301.0,338.0 L304.0,337.5 L307.0,336.9 L310.0,336.3 L313.0,335.8 L316.0,335.2 L319.0,334.6 L322.0,334.0 L325.0,333.5 L328.0,332.9 L331.0,332.3 L334.0,331.8 L337.0,331.2 L340.0,330.6 L343.0,330.1 L346.0,329.5 L349.0,328.9 L352.0,328.3 L355.0,327.8 L358.0,327.2 L361.0,326.6 L364.0,326.0 L367.0,325.4 L370.0,324.8 L373.0,324.2 L376.0,323.6 L379.0,323.0 L382.0,322.4 L385.0,321.8 L388.0,321.2 L391.0,320.5 L394.0,319.9 L397.0,319.2 L400.0,318.6 L403.0,317.9 L406.0,317.3 L409.0,316.6 L412.0,315.9 L415.0,315.2 L418.0,314.5 L421.0,313.8 L424.0,313.0 L427.0,312.3 L430.0,311.6 L433.0,310.8 L436.0,310.0 L439.0,309.3 L442.0,308.5 L445.0,307.7 L448.0,306.9 L451.0,306.0 L454.0,305.2 L457.0,304.4 L460.0,303.5 L463.0,302.6 L466.0,301.7 L469.0,300.8 L472.0,299.9 L475.0,299.0 L478.0,298.0 L481.0,297.1 L484.0,296.1 L487.0,295.1 L490.0,294.1 L493.0,293.1 L496.0,292.1 L499.0,291.0 L502.0,290.0 L505.0,288.9 L508.0,287.8 L511.0,286.7 L514.0,285.6 L517.0,284.4 L520.0,283.3 L523.0,282.1 L526.0,280.9 L529.0,279.7 L532.0,278.5 L535.0,277.3 L538.0,276.0 L541.0,274.7 L544.0,273.4 L547.0,272.1 L550.0,270.7 L553.0,269.4 L556.0,267.9 L559.0,266.5 L562.0,265.0 L565.0,263.5 L568.0,261.9 L571.0,260.3 L574.0,258.7 L577.0,257.0 L580.0,255.2 L583.0,253.4 L586.0,251.6 L589.0,249.7 L592.0,247.8 L595.0,245.8 L598.0,243.8 L601.0,241.8 L604.0,239.7 L607.0,237.6 L610.0,235.5 L613.0,233.4 L616.0,231.2 L619.0,229.1 L622.0,226.9 L625.0,224.7 L628.0,222.5 L631.0,220.3 L634.0,218.1 L637.0,215.9 L640.0,213.8 L643.0,211.6 L646.0,209.4 L649.0,207.3 L652.0,205.2 L655.0,203.1 L658.0,201.0 L661.0,199.0 L664.0,196.9 L667.0,195.0 L670.0,193.0 L673.0,191.0 L676.0,189.1 L679.0,187.2 L682.0,185.3 L685.0,183.4 L688.0,181.6 L691.0,179.7 L694.0,177.8 L697.0,175.9 L700.0,174.1 L703.0,172.2 L706.0,170.3 L709.0,168.4 L712.0,166.5 L715.0,164.5 L718.0,162.6 L721.0,160.6 L724.0,158.6 L727.0,156.5 L730.0,154.5 L733.0,152.4 L736.0,150.2 L739.0,148.1 L742.0,145.8 L745.0,143.6 L748.0,141.3 L751.0,138.9 L754.0,136.5 L757.0,134.0 L760.0,131.5 L763.0,128.9 L766.0,126.4 L769.0,123.8 L772.0,121.3 L775.0,118.8 L778.0,116.3 L781.0,113.8 L784.0,111.5 L787.0,109.2 L790.0,106.9 L793.0,104.8 L796.0,102.7 L799.0,100.7 L802.0,98.8 L805.0,97.0 L808.0,95.2 L811.0,93.5 L814.0,91.9 L817.0,90.3 L820.0,88.8 L823.0,87.2 L826.0,85.6 L829.0,84.1 L832.0,82.6 L835.0,81.3 L838.0,80.2 L841.0,79.2 L844.0,78.5 L847.0,77.8 L850.0,77.2 L853.0,76.5 L856.0,75.8 L859.0,75.1 L862.0,74.5 L865.0,73.8 L868.0,73.1 L871.0,72.4 L874.0,71.8 L877.0,71.2 L880.0,70.6 L883.0,70.1 L886.0,69.6 L889.0,69.2 L892.0,68.8 L895.0,68.5 L898.0,68.3 L901.0,68.1 L904.0,68.0 L907.0,68.0 L910.0,67.9 L913.0,67.9 L916.0,67.9 L919.0,68.0 L922.0,68.0 L925.0,68.1 L928.0,68.2 L931.0,68.2 L934.0,68.3" fill="none" stroke="#808000" stroke-width="5.6" stroke-linejoin="round"/>
</g>
<line x1="883.4" y1="237.7" x2="882.3" y2="239.4" stroke="#000000" stroke-width="4.0" stroke-linecap="round"/><line x1="883.4" y1="237.7" x2="640.9" y2="640.9" stroke="#000000" stroke-width="4.0"/><polygon points="627.0,664.0 646.9,644.5 634.9,637.3" fill="#000000"/>
<line x1="851.0" y1="275.2" x2="850.0" y2="277.0" stroke="#ff0000" stroke-width="4.0" stroke-linecap="round"/><line x1="851.0" y1="275.2" x2="644.7" y2="632.6" stroke="#ff0000" stroke-width="4.0"/><polygon points="631.2,656.0 650.8,636.1 638.6,629.1" fill="#ff0000"/>
<line x1="775.8" y1="383.5" x2="641.2" y2="633.8" stroke="#00ff00" stroke-width="4.0"/><polygon points="628.4,657.6 647.4,637.1 635.0,630.5" fill="#00ff00"/>
<line x1="816.8" y1="207.6" x2="815.6" y2="209.2" stroke="#0000ff" stroke-width="4.0" stroke-linecap="round"/><line x1="816.8" y1="207.6" x2="504.3" y2="632.0" stroke="#0000ff" stroke-width="4.0"/><polygon points="488.3,653.7 509.9,636.1 498.7,627.8" fill="#0000ff"/>
<line x1="775.8" y1="237.8" x2="774.6" y2="239.4" stroke="#00ffff" stroke-width="4.0" stroke-linecap="round"/><line x1="775.8" y1="237.8" x2="482.7" y2="634.0" stroke="#00ffff" stroke-width="4.0"/><polygon points="466.6,655.7 488.3,638.2 477.0,629.8" fill="#00ffff"/>
<line x1="760.7" y1="204.7" x2="759.4" y2="206.2" stroke="#ff00ff" stroke-width="4.0" stroke-linecap="round"/><line x1="760.7" y1="204.7" x2="393.9" y2="636.4" stroke="#ff00ff" stroke-width="4.0"/><polygon points="376.4,657.0 399.2,641.0 388.5,631.9" fill="#ff00ff"/>
<line x1="731.7" y1="192.2" x2="730.3" y2="193.7" stroke="#ffff00" stroke-width="4.0" stroke-linecap="round"/><line x1="731.7" y1="192.2" x2="325.7" y2="638.3" stroke="#ffff00" stroke-width="4.0"/><polygon points="307.5,658.3 330.8,643.0 320.5,633.6" fill="#ffff00"/>
<line x1="745.5" y1="146.5" x2="744.0" y2="147.8" stroke="#808000" stroke-width="4.0" stroke-linecap="round"/><line x1="745.5" y1="146.5" x2="171.8" y2="642.5" stroke="#808000" stroke-width="4.0"/><polygon points="151.4,660.2 176.4,647.8 167.2,637.2" fill="#808000"/>
<line x1="177.4" y1="50.8" x2="240.5" y2="50.8" stroke="#000000" stroke-width="5.7" stroke-linecap="round"/>
<g transform="translate(249.0,59.8)"><text class="leg">0 min (Unexposed)</text></g>
<line x1="177.4" y1="85.9" x2="240.5" y2="85.9" stroke="#00ff00" stroke-width="5.7" stroke-linecap="round"/>
<g transform="translate(249.0,94.9)"><text class="leg">1 min</text><rect x="0.37" y="-4.13" width="6.80" height="6.63" fill="#fff"/><rect x="9.69" y="-4.13" width="6.57" height="6.63" fill="#fff"/></g>
<line x1="177.4" y1="120.7" x2="240.5" y2="120.7" stroke="#00ffff" stroke-width="5.7" stroke-linecap="round"/>
<g transform="translate(249.0,129.7)"><text class="leg">3 min</text></g>
<line x1="177.4" y1="156.0" x2="240.5" y2="156.0" stroke="#ffff00" stroke-width="5.7" stroke-linecap="round"/>
<g transform="translate(249.0,165.0)"><text class="leg">7 min</text></g>
<line x1="505.3" y1="50.8" x2="568.7" y2="50.8" stroke="#ff0000" stroke-width="5.7" stroke-linecap="round"/>
<g transform="translate(577.2,59.8)"><text class="leg">0.5 min</text></g>
<line x1="505.3" y1="85.9" x2="568.7" y2="85.9" stroke="#0000ff" stroke-width="5.7" stroke-linecap="round"/>
<g transform="translate(577.2,94.9)"><text class="leg">2 min</text></g>
<line x1="505.3" y1="120.7" x2="568.7" y2="120.7" stroke="#ff00ff" stroke-width="5.7" stroke-linecap="round"/>
<g transform="translate(577.2,129.7)"><text class="leg">4 min</text></g>
<line x1="505.3" y1="156.0" x2="568.7" y2="156.0" stroke="#808000" stroke-width="5.7" stroke-linecap="round"/>
<g transform="translate(577.2,165.0)"><text class="leg">10 min</text><rect x="0.37" y="-4.13" width="6.80" height="6.63" fill="#fff"/><rect x="9.69" y="-4.13" width="6.57" height="6.63" fill="#fff"/></g>
<text class="ser b" x="508.3" y="751.8" font-size="41.6" text-anchor="middle">Energy (eV)</text>
<g transform="translate(46.8,538) rotate(-90)"><text class="ser b" font-size="46.3" transform="translate(-0.7,-1.1) scale(1.0,1)">(</text>
<text class="ser" font-size="39" transform="translate(13.4,-0.4) scale(1.22,1)">α</text>
<text class="b" font-size="38.5" transform="translate(38.2,-0.4) scale(0.94,1)">h</text>
<text class="ser" font-size="40" transform="translate(60.6,-0.4) scale(1.14,1)">ν</text>
<text class="ser b" font-size="46.3" transform="translate(81.3,-1.1) scale(1.0,1)">)</text>
<text class="b" font-size="40" transform="translate(104.1,-19.0) scale(0.97,1)">0.5</text>
<text class="ser b" font-size="46.3" transform="translate(169.9,-1.1) scale(1.0,1)">(</text>
<text class="b" font-size="40" transform="translate(184.3,0) scale(0.97,1)">eV cm</text>
<text class="b" font-size="40" transform="translate(298.5,-19.0) scale(0.97,1)">-</text>
<g transform="translate(310.2,-19.0) scale(0.97,1)"><text class="b" font-size="40">1</text><rect x="0.72" y="-6.08" width="8.62" height="8.58" fill="#fff"/><rect x="14.82" y="-6.08" width="8.11" height="8.58" fill="#fff"/></g>
<text class="ser b" font-size="46.3" transform="translate(332.0,-1.1) scale(1.0,1)">)</text>
<text class="b" font-size="40" transform="translate(357.6,-19.0) scale(0.97,1)">0.5</text></g>
</svg></body></html>
